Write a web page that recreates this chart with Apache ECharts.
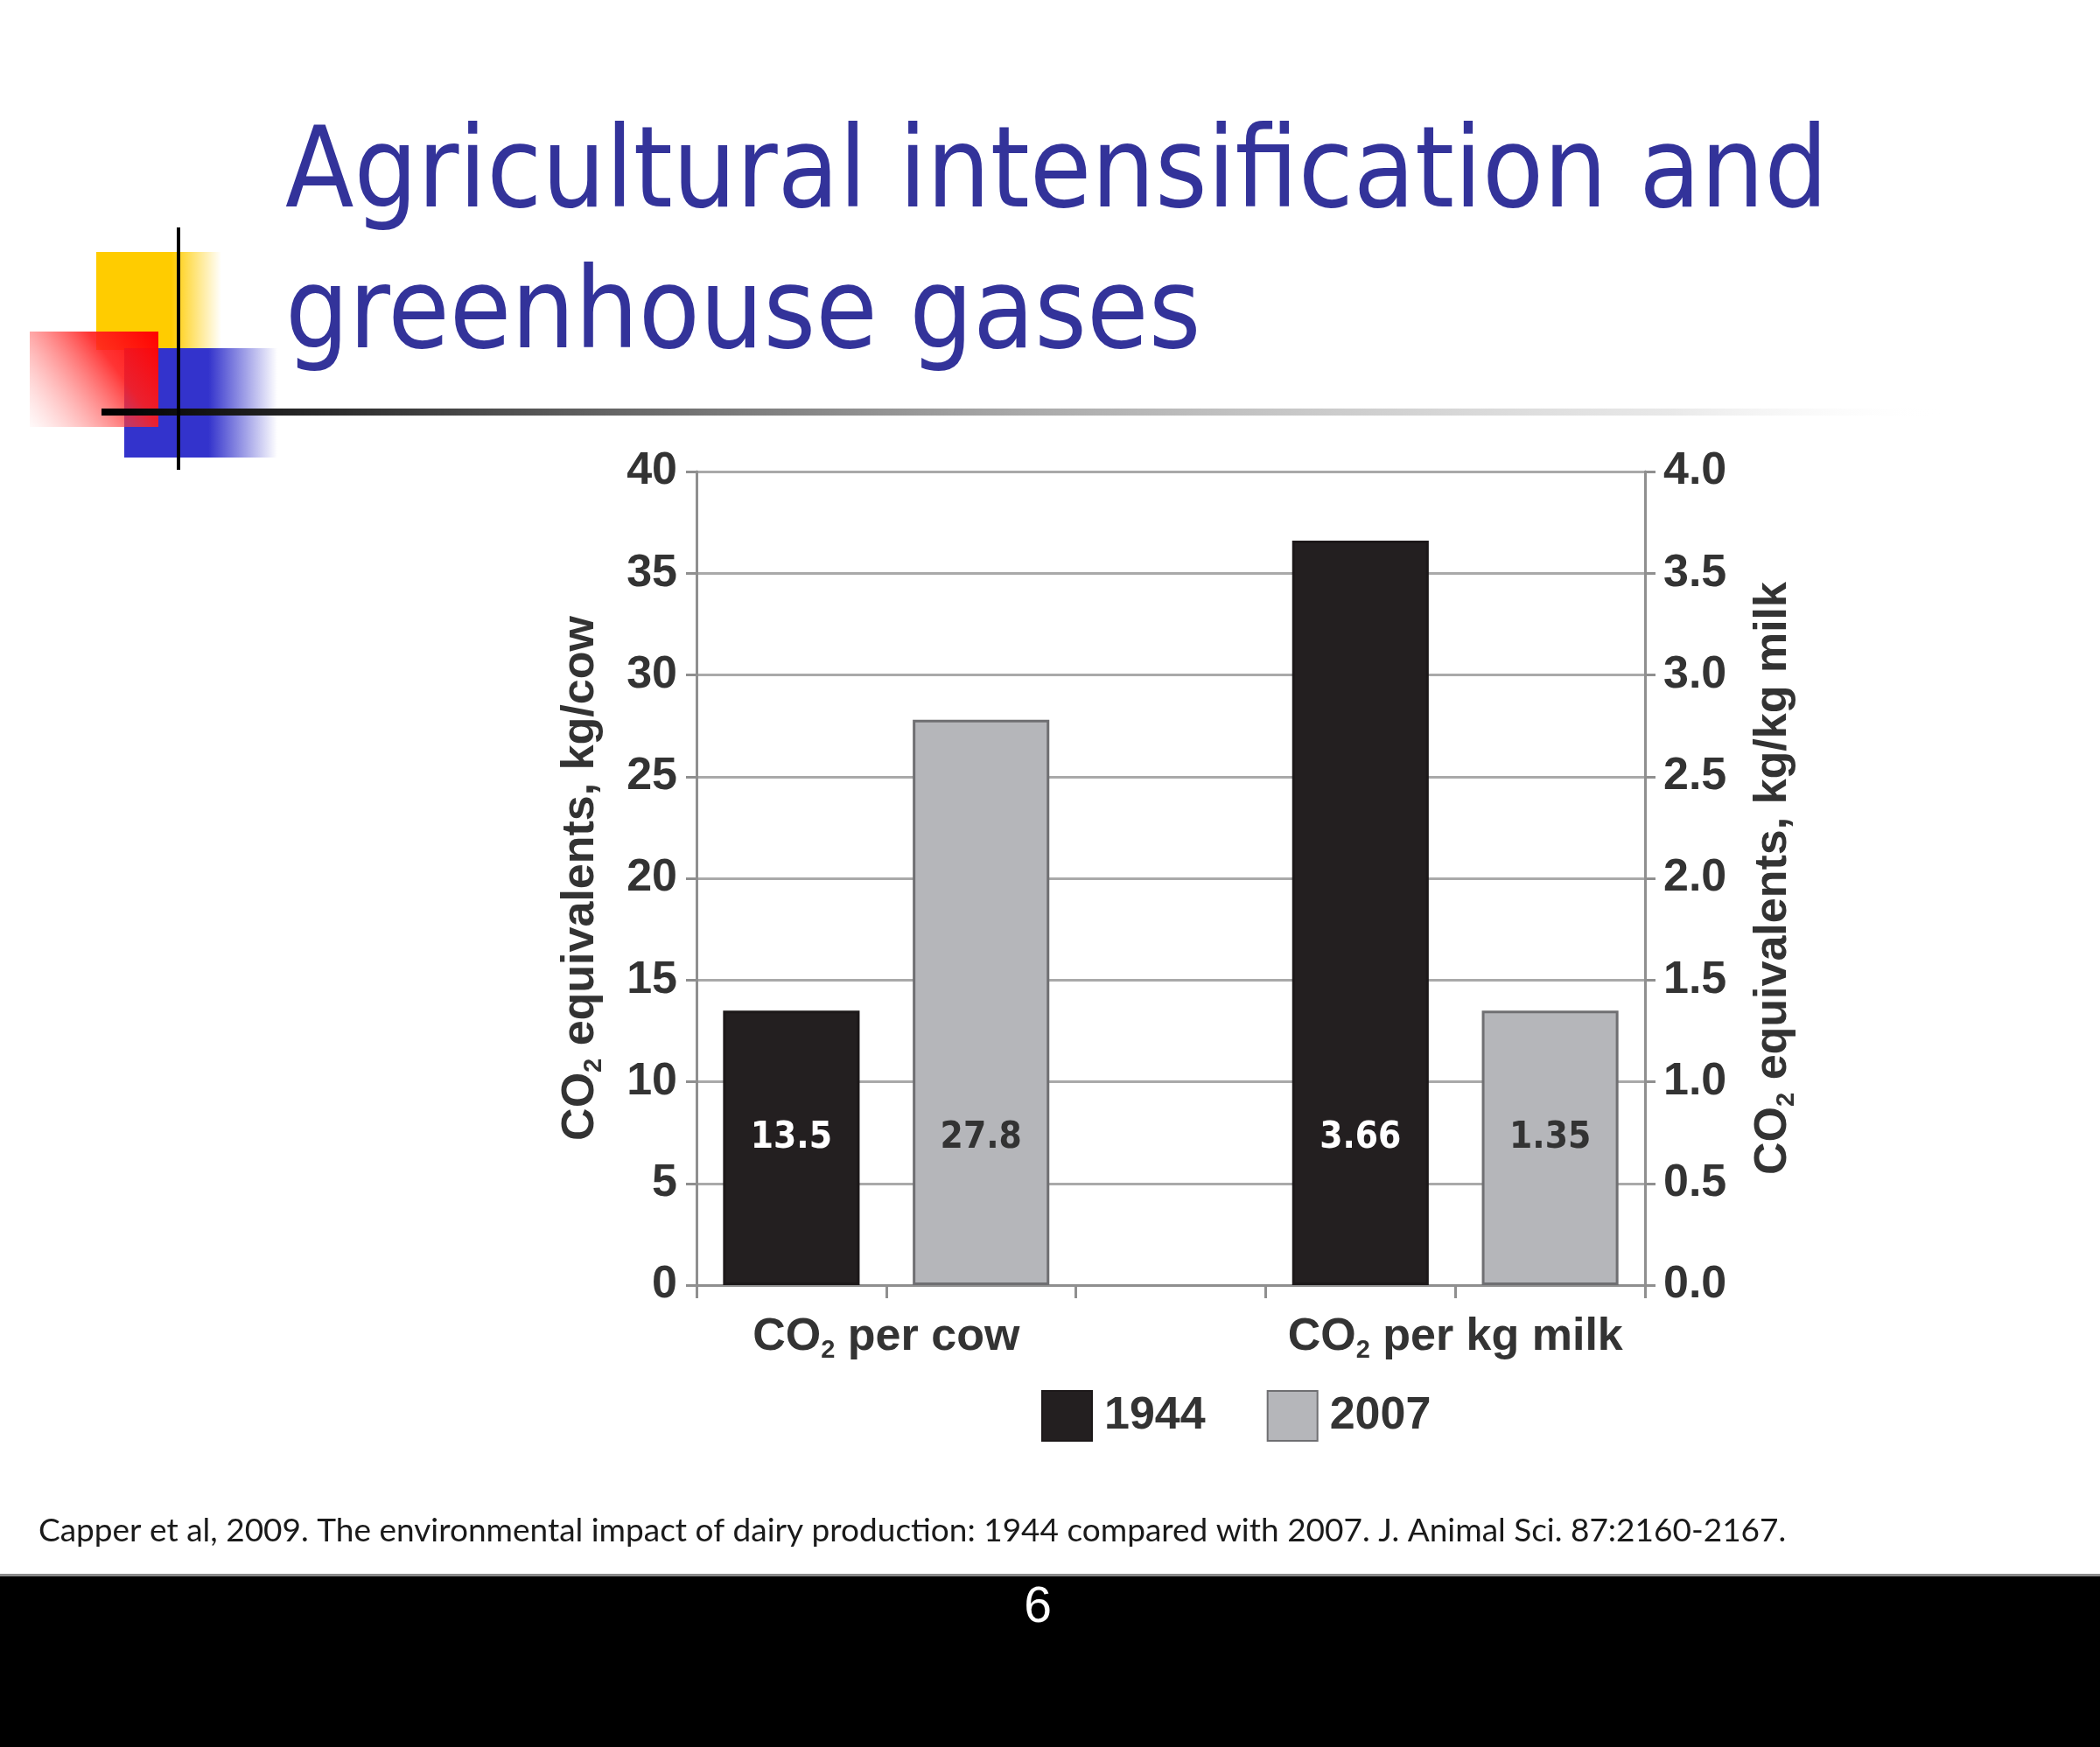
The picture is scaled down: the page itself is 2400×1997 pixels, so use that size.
<!DOCTYPE html>
<html><head><meta charset="utf-8">
<script src="https://cdn.jsdelivr.net/npm/echarts@6/dist/echarts.min.js"></script>
<style>html,body{margin:0;padding:0;background:#fff}#c{width:2400px;height:1997px}</style>
</head><body><div id="c"></div>
<script>
// ---- data ----
const groups = ['CO₂ per cow', 'CO₂ per kg milk'];
const years = ['1944', '2007'];
const perCowValues = [13.5, 27.8];      // left axis, kg/cow
const perKgMilkValues = [3.66, 1.35];   // right axis, kg/kg milk
const leftTicks = { min: 0, max: 40, interval: 5 };
const rightTicks = { min: 0, max: 4, interval: 0.5 };
const leftAxisName = 'CO₂ equivalents, kg/cow';
const rightAxisName = 'CO₂ equivalents, kg/kg milk';
const titleLines = ['Agricultural intensification and', 'greenhouse gases'];
const citation = 'Capper et al, 2009. The environmental impact of dairy production: 1944 compared with 2007. J. Animal Sci. 87:2160-2167.';
const pageNumber = '6';

// ---- styles ----
const yearFill = ['#231f20', '#b5b6ba'];
const yearBorder = ['#1c1819', '#6f6f72'];
const yearLabel = ['#ffffff', '#333333'];
const axisGray = '#8f8f8f';
const txt = '#333333';
const FONT = "'Liberation Sans', Arial, sans-serif";

function sub(s) { return s.replace('₂', '{s|2}'); }
const subRich = { s: { fontSize: 29, lineHeight: 28, verticalAlign: 'bottom', fontWeight: 'bold', color: txt, fontFamily: FONT } };

const mctx = document.createElement('canvas').getContext('2d');
function fit(text, family, weight, target) {
  mctx.font = weight + ' 100px ' + family;
  return 100 * target / mctx.measureText(text).width;
}

// slots: each group has one slot per year, plus an empty slot between groups
const nSlots = groups.length * (years.length + 1) - 1;
const slotNames = [];
for (let i = 0; i < nSlots; i++) slotNames.push('s' + i);
const groupValues = [perCowValues, perKgMilkValues];

const series = [];
groups.forEach((g, gi) => {
  years.forEach((y, yi) => {
    const d = slotNames.map(() => '-');
    d[gi * (years.length + 1) + yi] = groupValues[gi][yi];
    series.push({
      type: 'bar', name: y, xAxisIndex: 0, yAxisIndex: gi, data: d,
      barWidth: '72%', barGap: '-100%',
      itemStyle: { color: yearFill[yi], borderColor: yearBorder[yi], borderWidth: 3 },
      label: { show: true, position: 'insideBottom', distance: 147, color: yearLabel[yi],
        fontSize: 42, fontWeight: 'bold', fontFamily: "'DejaVu Sans Condensed', 'DejaVu Sans', sans-serif" },
      emphasis: { disabled: true }
    });
  });
});

const titleFamily = "'DejaVu Sans Condensed', 'DejaVu Sans', sans-serif";
const titleSize = fit(titleLines[0], titleFamily, 'normal', 1763);
const citeFamily = "Lato, 'Liberation Sans', sans-serif";
const citeSize = fit(citation, citeFamily, 'normal', 1998);

const chart = echarts.init(document.getElementById('c'), null, { renderer: 'canvas' });
chart.setOption({
  backgroundColor: '#ffffff',
  animation: false,
  grid: { left: 796, right: 520, top: 539, bottom: 528, containLabel: false },
  legend: {
    data: years, left: 1185, top: 1584, icon: 'rect', itemWidth: 57, itemHeight: 57, itemGap: 70,
    textStyle: { fontSize: 52, fontWeight: 'bold', color: txt, fontFamily: FONT, padding: [0, 0, 0, 9] }
  },
  xAxis: [
    { type: 'category', data: slotNames, position: 'bottom',
      axisLine: { lineStyle: { color: axisGray, width: 3 } },
      axisTick: { show: true, interval: 0, length: 15, lineStyle: { color: axisGray, width: 3 } },
      axisLabel: { show: false }, splitLine: { show: false } },
    { type: 'value', position: 'bottom', min: 0, max: nSlots, interval: 1,
      axisLine: { show: false }, axisTick: { show: false }, splitLine: { show: false },
      axisLabel: { show: true, margin: 31, fontSize: 52, fontWeight: 'bold', color: txt, fontFamily: FONT, lineHeight: 58,
        showMinLabel: true, showMaxLabel: true,
        formatter: v => { const gi = groups.findIndex((g, i) => i * (years.length + 1) + years.length / 2 === v); return gi >= 0 ? sub(groups[gi]) : ''; },
        rich: subRich } }
  ],
  yAxis: [
    { type: 'value', position: 'left', min: leftTicks.min, max: leftTicks.max, interval: leftTicks.interval,
      name: sub(leftAxisName), nameLocation: 'middle', nameRotate: 90, nameGap: 103,
      nameTextStyle: { fontSize: 52, fontWeight: 'bold', color: txt, fontFamily: FONT, lineHeight: 58, rich: subRich },
      axisLine: { show: true, lineStyle: { color: axisGray, width: 3 } },
      axisTick: { show: true, length: 12, lineStyle: { color: axisGray, width: 3 } },
      axisLabel: { margin: 22, fontSize: 52, fontWeight: 'bold', color: txt, fontFamily: FONT },
      splitLine: { show: true, lineStyle: { color: '#a9a9a9', width: 3 } } },
    { type: 'value', position: 'right', min: rightTicks.min, max: rightTicks.max, interval: rightTicks.interval,
      name: sub(rightAxisName), nameLocation: 'middle', nameRotate: 90, nameGap: 118,
      nameTextStyle: { fontSize: 52, fontWeight: 'bold', color: txt, fontFamily: FONT, lineHeight: 58, rich: subRich },
      axisLine: { show: true, lineStyle: { color: axisGray, width: 3 } },
      axisTick: { show: true, length: 12, lineStyle: { color: axisGray, width: 3 } },
      axisLabel: { margin: 21, fontSize: 52, fontWeight: 'bold', color: txt, fontFamily: FONT, formatter: v => v.toFixed(1) },
      splitLine: { show: false } }
  ],
  series: series,
  graphic: [
    { type: 'rect', z: 1, shape: { x: 110, y: 288, width: 143, height: 112 },
      style: { fill: new echarts.graphic.LinearGradient(0, 0, 1, 0, [
        { offset: 0, color: '#ffcc00' }, { offset: 0.6, color: '#ffcc00' }, { offset: 1, color: 'rgba(255,204,0,0)' }]) } },
    { type: 'rect', z: 2, shape: { x: 142, y: 398, width: 175, height: 125 },
      style: { fill: new echarts.graphic.LinearGradient(0, 0, 1, 0, [
        { offset: 0, color: '#3333cc' }, { offset: 0.55, color: '#3333cc' }, { offset: 1, color: 'rgba(51,51,204,0)' }]) } },
    { type: 'rect', z: 3, shape: { x: 34, y: 379, width: 147, height: 109 },
      style: { fill: new echarts.graphic.LinearGradient(1, 0, 0, 1, [
        { offset: 0, color: '#ff0000' }, { offset: 0.35, color: 'rgba(255,30,30,0.9)' }, { offset: 1, color: 'rgba(255,150,150,0.05)' }]) } },
    { type: 'rect', z: 4, shape: { x: 116, y: 467, width: 2110, height: 8 },
      style: { fill: new echarts.graphic.LinearGradient(0, 0, 1, 0, [
        { offset: 0, color: '#000000' }, { offset: 0.12, color: '#2a2a2a' }, { offset: 0.5, color: 'rgba(140,140,140,0.75)' }, { offset: 0.85, color: 'rgba(210,210,210,0.5)' }, { offset: 1, color: 'rgba(255,255,255,0)' }]) } },
    { type: 'rect', z: 5, shape: { x: 202, y: 260, width: 4, height: 277 }, style: { fill: '#000000' } },
    { type: 'text', z: 5, x: 326, y: 203, style: { text: titleLines[0], fontSize: titleSize, fontFamily: titleFamily, fill: '#33339a', align: 'left', verticalAlign: 'middle' } },
    { type: 'text', z: 5, x: 326, y: 364, style: { text: titleLines[1], fontSize: titleSize, fontFamily: titleFamily, fill: '#33339a', align: 'left', verticalAlign: 'middle' } },
    { type: 'text', z: 5, x: 44, y: 1750, style: { text: citation, fontSize: citeSize, fontFamily: citeFamily, fill: '#1a1a1a', align: 'left', verticalAlign: 'middle' } },
    { type: 'rect', z: 5, shape: { x: 0, y: 1799, width: 2400, height: 3 }, style: { fill: '#8a8a8a' } },
    { type: 'rect', z: 5, shape: { x: 0, y: 1802, width: 2400, height: 195 }, style: { fill: '#000000' } },
    { type: 'text', z: 6, x: 1186, y: 1838, style: { text: pageNumber, fontSize: 57, fontFamily: FONT, fill: '#ffffff', align: 'center', verticalAlign: 'middle' } }
  ]
});
</script></body></html>
